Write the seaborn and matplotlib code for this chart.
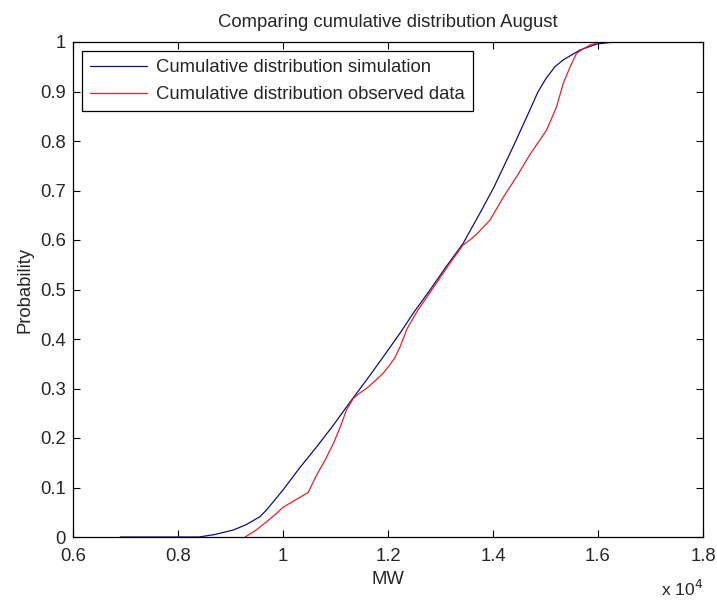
import numpy as np
import pandas as pd
import matplotlib
matplotlib.use("Agg")
import matplotlib.pyplot as plt
from matplotlib.ticker import FuncFormatter, FixedLocator
import seaborn as sns

# --- data (MW, probability) ---
sim_mw = [6900, 8400, 8700, 8930, 9050, 9300, 9560, 9690, 10000, 10320, 10640,
          10960, 11280, 11590, 11910, 12230, 12500, 12800, 13100, 13430, 13750,
          14010, 14390, 14700, 14860, 15020, 15180, 15340, 15660, 15980, 16320, 16400]
sim_p = [0.0, 0.0, 0.005, 0.011, 0.014, 0.025, 0.041, 0.055, 0.095, 0.14, 0.182,
         0.226, 0.273, 0.317, 0.364, 0.412, 0.455, 0.499, 0.545, 0.593, 0.654,
         0.705, 0.79, 0.862, 0.90, 0.928, 0.95, 0.964, 0.984, 0.996, 1.0, 1.0]

obs_mw = [9280, 9500, 9690, 9880, 10000, 10320, 10480, 10640, 10800, 10960,
          11100, 11210, 11340, 11450, 11590, 11750, 11910, 12050, 12130, 12230,
          12360, 12550, 12800, 13000, 13180, 13430, 13560, 13690, 13940, 14200,
          14450, 14700, 15020, 15210, 15340, 15470, 15590, 15700, 15850, 16040]
obs_p = [0.0, 0.015, 0.031, 0.048, 0.06, 0.08, 0.09, 0.125, 0.155, 0.189,
         0.225, 0.257, 0.28, 0.29, 0.30, 0.315, 0.331, 0.35, 0.362, 0.384,
         0.42, 0.455, 0.494, 0.525, 0.553, 0.59, 0.60, 0.612, 0.64, 0.687,
         0.728, 0.772, 0.822, 0.869, 0.917, 0.95, 0.977, 0.985, 0.994, 1.0]

series_names = ["Cumulative distribution simulation",
                "Cumulative distribution observed data"]
x_ticks = [6000, 8000, 10000, 12000, 14000, 16000, 18000]
y_ticks = [0, 0.1, 0.2, 0.3, 0.4, 0.5, 0.6, 0.7, 0.8, 0.9, 1.0]

df = pd.concat([
    pd.DataFrame({"MW": sim_mw, "Probability": sim_p, "series": series_names[0]}),
    pd.DataFrame({"MW": obs_mw, "Probability": obs_p, "series": series_names[1]}),
], ignore_index=True)

sns.set_style("ticks")
plt.rcParams["font.family"] = ["Liberation Sans", "DejaVu Sans"]
plt.rcParams["xtick.direction"] = "in"
plt.rcParams["ytick.direction"] = "in"

FS = 13.3
TXT = "#262626"

fig = plt.figure(figsize=(7.17, 6.01), dpi=100)
ax = fig.add_axes([73 / 717, 1 - 537 / 601, 630 / 717, 495 / 601])

palette = {series_names[0]: "#10107a", series_names[1]: "#e8202a"}
sns.lineplot(data=df, x="MW", y="Probability", hue="series", palette=palette,
             sort=False, estimator=None, linewidth=0.9, ax=ax, legend=False)

ax.set_xlim(6000, 18000)
ax.set_ylim(0, 1)
ax.xaxis.set_major_locator(FixedLocator(x_ticks))
ax.yaxis.set_major_locator(FixedLocator(y_ticks))
ax.xaxis.set_major_formatter(FuncFormatter(lambda v, p: f"{v/1e4:g}"))
ax.yaxis.set_major_formatter(FuncFormatter(lambda v, p: f"{v:g}"))
ax.tick_params(axis="both", which="major", labelsize=FS, length=5, width=0.8,
               top=True, right=True, color="black", labelcolor=TXT)
ax.tick_params(axis="x", pad=8)
ax.tick_params(axis="y", pad=5)
for s in ax.spines.values():
    s.set_visible(True)
    s.set_linewidth(0.9)
    s.set_color("black")

ax.set_xlabel("MW", fontsize=FS, color=TXT, labelpad=4)
ax.set_ylabel("Probability", fontsize=FS, color=TXT, labelpad=5)
ax.set_title("Comparing cumulative distribution August", fontsize=FS,
             color=TXT, pad=11)

ax.text(1.0, -0.084, r"x 10$^4$", transform=ax.transAxes, ha="right", va="top",
        fontsize=12.5, color=TXT)

handles = [plt.Line2D([], [], color=palette[n], linewidth=0.9) for n in series_names]
leg = ax.legend(handles, series_names, loc="upper left", fontsize=FS,
                frameon=True, fancybox=False, edgecolor="black", framealpha=1,
                borderaxespad=0.5, handlelength=3.1, handletextpad=0.5,
                labelspacing=0.55, borderpad=0.42)
leg.get_frame().set_linewidth(0.9)

fig.savefig("out.png", dpi=100)
